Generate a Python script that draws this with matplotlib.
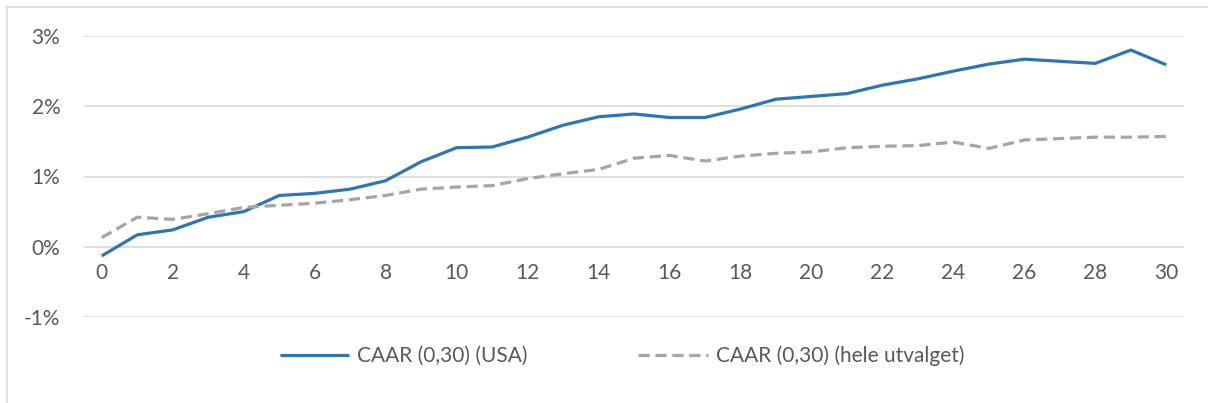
import matplotlib.pyplot as plt
from matplotlib.lines import Line2D
from matplotlib.ticker import FuncFormatter
import numpy as np

# data (CAAR in %)
days = np.arange(0, 31)
caar_usa = [-0.13, 0.17, 0.24, 0.42, 0.50, 0.73, 0.76, 0.82, 0.94, 1.21,
            1.41, 1.42, 1.56, 1.73, 1.85, 1.89, 1.84, 1.84, 1.96, 2.10,
            2.14, 2.18, 2.30, 2.39, 2.50, 2.60, 2.67, 2.64, 2.61, 2.80, 2.59]
caar_all = [0.13, 0.42, 0.39, 0.47, 0.56, 0.59, 0.62, 0.67, 0.73, 0.82,
            0.85, 0.87, 0.97, 1.04, 1.10, 1.26, 1.30, 1.22, 1.29, 1.33,
            1.35, 1.41, 1.43, 1.44, 1.49, 1.40, 1.52, 1.54, 1.56, 1.56, 1.57]
xtick_labels = [str(d) for d in days[::2]]

plt.rcParams['font.family'] = ['Lato', 'DejaVu Sans']
txt = '#595959'
grid = '#D9D9D9'
fs = 15

fig = plt.figure(figsize=(12.08, 4.03), dpi=100)
ax = fig.add_axes([84 / 1208, 1 - 317 / 403, 1100 / 1208, 281 / 403])

ax.plot(days, caar_usa, color='#2E75B6', linewidth=2.3, label='CAAR (0,30) (USA)',
        solid_capstyle='butt')
ax.plot(days, caar_all, color='#A5A5A5', linewidth=2.3, linestyle=(0, (3.5, 1.8)),
        label='CAAR (0,30) (hele utvalget)')

ax.set_xlim(-0.5, 30.5)
ax.set_ylim(-1, 3)
ax.set_yticks([-1, 0, 1, 2, 3])
ax.yaxis.set_major_formatter(FuncFormatter(lambda v, p: f'{v:.0f}%'))
ax.set_xticks(days[::2])
ax.set_xticklabels(xtick_labels)
ax.grid(axis='y', color=grid, linewidth=1.2)
ax.set_axisbelow(True)

for s in ['top', 'right', 'left']:
    ax.spines[s].set_visible(False)
ax.spines['bottom'].set_position(('data', 0))
ax.spines['bottom'].set_visible(False)
ax.tick_params(axis='x', length=0, pad=12, labelsize=fs, labelcolor=txt)
ax.tick_params(axis='y', length=0, pad=17, labelsize=fs, labelcolor=txt)

fig.legend(loc='center', bbox_to_anchor=(622 / 1208, 1 - 356 / 403), ncol=2,
           frameon=False, fontsize=fs, labelcolor=txt, handlelength=3.35,
           columnspacing=5.3, handletextpad=0.38)

# chart border (left and top visible)
fig.add_artist(Line2D([7 / 1208, 7 / 1208], [0, 1 - 7 / 403], color=grid, linewidth=1.2,
                      transform=fig.transFigure))
fig.add_artist(Line2D([7 / 1208, 1], [1 - 7 / 403, 1 - 7 / 403], color=grid, linewidth=1.2,
                      transform=fig.transFigure))

plt.savefig('out.png', dpi=100)
